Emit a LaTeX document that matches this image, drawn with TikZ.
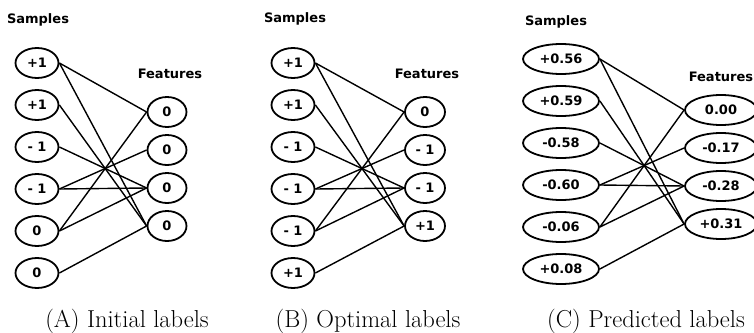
\documentclass[tikz,border=0pt]{standalone}
\usepackage{fontspec}
\usetikzlibrary{shapes.geometric}
\newfontfamily\lblfont{DejaVu Sans}

\tikzset{
  hdr/.style = {font=\lblfont\bfseries\fontsize{13}{15}\selectfont, inner sep=0pt},
  val/.style = {draw, ellipse, line width=1.8pt, inner sep=0pt,
                minimum height=30pt, font=\lblfont\bfseries\fontsize{13}{15}\selectfont},
  link/.style = {line width=1.4pt},
  capt/.style = {font=\fontsize{24.5}{28}\selectfont, inner sep=0pt}
}

\begin{document}
\begin{tikzpicture}[x=1pt, y=-1pt]
  \useasboundingbox (0,0) rectangle (754,332);

  % (A) initial labels
  \node[hdr] (hA) at (38,20) {Samples};
  \node[hdr] (gA) at (170,74) {Features};
  \foreach \t [count=\i] in {+1,+1,- 1,- 1,0,0}{
    \node[val, minimum width=43pt] (sA\i) at (37, 21+42*\i) {\t};
  }
  \foreach \t [count=\j] in {0,0,0,0}{
    \node[val, minimum width=39pt] (fA\j) at (167, 74+38*\j) {\t};
  }
  \foreach \s/\f in {1/1,1/4,2/4,3/3,4/2,4/3,5/1,5/3,6/4}{
    \draw[link] (sA\s.east) -- (fA\f.west);
  }
  \node[capt] (cA) at (127,321) {(A) Initial labels};

  % (B) optimal labels
  \node[hdr] (hB) at (295,19) {Samples};
  \node[hdr] (gB) at (427,74) {Features};
  \foreach \t [count=\i] in {+1,+1,- 1,- 1,- 1,+1}{
    \node[val, minimum width=43pt] (sB\i) at (293, 21+42*\i) {\t};
  }
  \foreach \t [count=\j] in {0,- 1,- 1,+1}{
    \node[val, minimum width=40pt] (fB\j) at (425, 74+38*\j) {\t};
  }
  \foreach \s/\f in {1/1,1/4,2/4,3/3,4/2,4/3,5/1,5/3,6/4}{
    \draw[link] (sB\s.east) -- (fB\f.west);
  }
  \node[capt] (cB) at (368,321) {(B) Optimal labels};

  % (C) predicted labels
  \node[hdr] (hC) at (556,22) {Samples};
  \node[hdr] (gC) at (721,77) {Features};
  \foreach \t [count=\i] in {+0.56,+0.59,-0.58,-0.60,-0.06,+0.08}{
    \node[val, minimum width=76pt] (sC\i) at (561, 17+42*\i) {\t};
  }
  \foreach \t [count=\j] in {0.00,-0.17,-0.28,+0.31}{
    \node[val, minimum width=72pt] (fC\j) at (721, 72+38*\j) {\t};
  }
  \foreach \s/\f in {1/1,1/4,2/4,3/3,4/2,4/3,5/1,5/3,6/4}{
    \draw[link] (sC\s.east) -- (fC\f.west);
  }
  \node[capt] (cC) at (646,321) {(C) Predicted labels};
\end{tikzpicture}
\end{document}
